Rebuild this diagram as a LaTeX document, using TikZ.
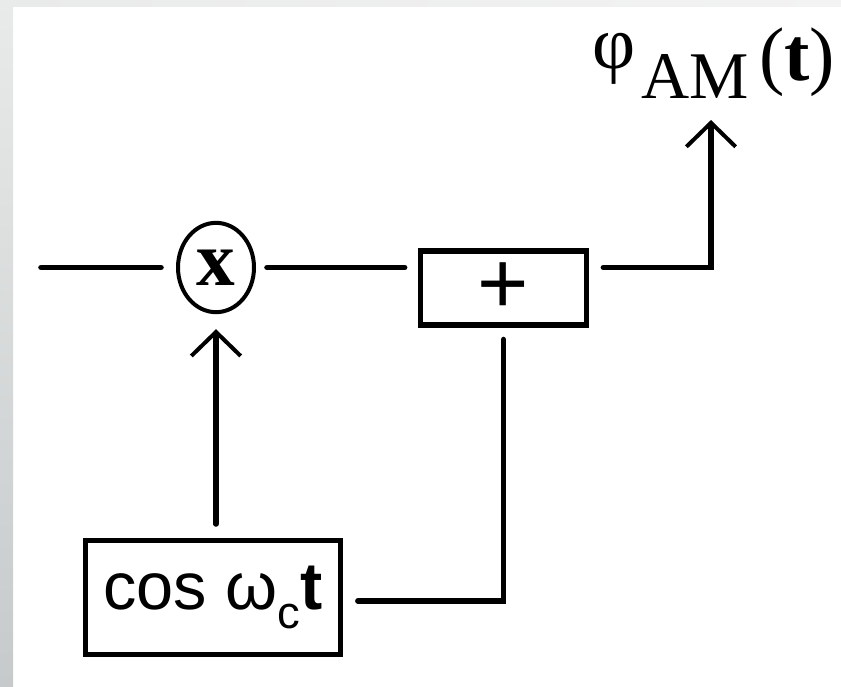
\documentclass[tikz,border=0pt]{standalone}
\usepackage{fontspec}
\setmainfont{Liberation Serif}
\setsansfont{Liberation Sans}
\usetikzlibrary{arrows.meta,shapes.geometric,calc}
\definecolor{edgetop}{HTML}{E9EAEA}
\definecolor{edgebot}{HTML}{C6CACA}
\definecolor{edgeright}{HTML}{F3F3F3}
\begin{document}
\begin{tikzpicture}[x=0.75pt,y=-0.75pt,
  wire/.style={line width=4.2pt,line cap=round,line join=miter},
  arr/.style={-{Straight Barb[length=18pt,width=37pt,line width=3pt]}},
  blockbox/.style={draw,line width=3.8pt,inner sep=0pt},
  lbl/.style={anchor=base west,inner sep=0pt},
]
\useasboundingbox (0,0) rectangle (841,686);
\fill[white] (0,0) rectangle (841,686);
\shade[top color=edgetop,bottom color=edgebot] (0,0) rectangle (13,686);
\shade[left color=edgetop,right color=edgeright] (13,0) rectangle (841,6);

\node[ellipse,draw,line width=3pt,minimum width=57pt,minimum height=67pt,inner sep=0pt,
      font=\fontsize{58}{58}\selectfont\bfseries] (mult) at (216,267.5) {x};
\node[blockbox,minimum width=125pt,minimum height=55.5pt,
      font=\sffamily\fontsize{66}{66}\selectfont] (sum) at (503.5,288) {+};
\node[blockbox,minimum width=191pt,minimum height=85.5pt,
      font=\sffamily\fontsize{50}{50}\selectfont] (osc) at (213,597.5)
      {cos ω\raisebox{-14pt}{\fontsize{34}{34}\selectfont c}\textbf{t}};

\node[lbl,font=\fontsize{56}{56}\selectfont] (phi) at (592,68) {φ};
\node[lbl,font=\fontsize{50}{50}\selectfont] (am) at (641,98) {AM};
\node[lbl,font=\fontsize{57}{57}\selectfont] (tt) at (759,80) {(\textbf{t})};

\coordinate (in) at (41,267.5);
\coordinate (outcorner) at (711,267.5);
\coordinate (outtip) at (711,120);

\draw[wire,shorten >=11.25pt] (in) -- (mult.west);
\draw[wire,shorten <=8.25pt,shorten >=9.75pt] (mult.east) -- (mult.east -| sum.west);
\draw[wire,arr,shorten <=10.5pt] (mult.east -| sum.east) -- (outcorner) -- (outtip);
\draw[wire,arr,shorten <=10.5pt,shorten >=11.25pt] (osc.north -| mult.south) -- (mult.south);
\draw[wire,shorten <=11.25pt,shorten >=9pt] ([yshift=-2.6pt]osc.east) -| (sum.south);
\end{tikzpicture}
\end{document}
